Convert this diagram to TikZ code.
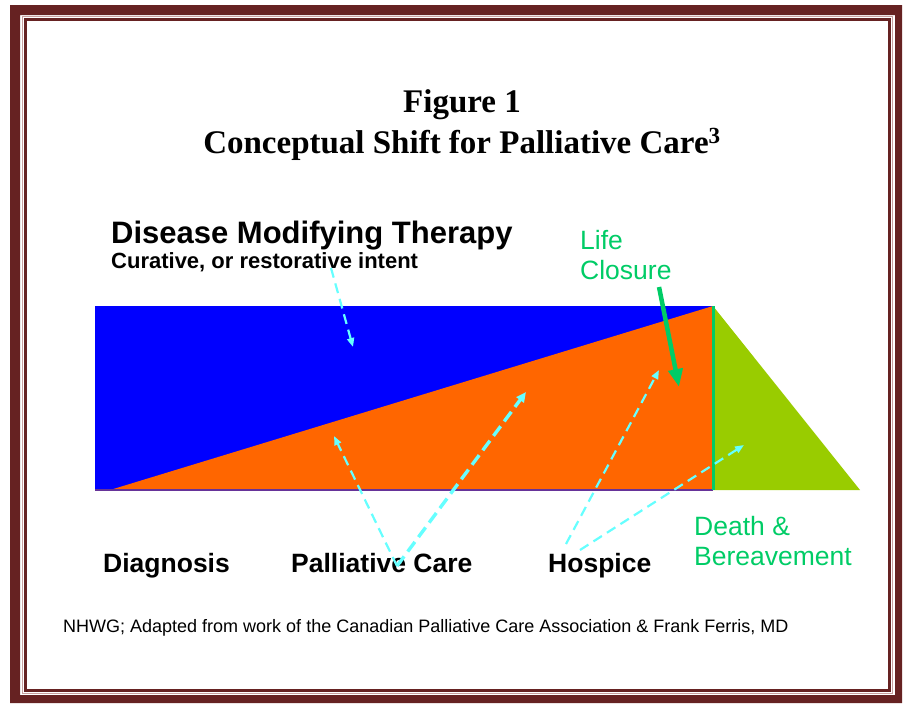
\documentclass[tikz,border=0pt]{standalone}
\usepackage{fontspec}
\setmainfont{Liberation Sans}
\newfontfamily\titlefont{Liberation Serif}
\usetikzlibrary{arrows.meta}

\definecolor{framered}{HTML}{662222}
\definecolor{framepale}{HTML}{C8A0A0}
\definecolor{therapyblue}{HTML}{0000FF}
\definecolor{careorange}{HTML}{FF6600}
\definecolor{griefolive}{HTML}{99CC00}
\definecolor{closuregreen}{HTML}{00CC66}
\definecolor{pointcyan}{HTML}{66FFFF}
\definecolor{baseviolet}{HTML}{663399}

\tikzset{
  lbl/.style={inner sep=0pt, anchor=base west},
  stagelbl/.style={lbl, font=\fontsize{26.5}{30}\selectfont\bfseries},
  greenlbl/.style={lbl, text=closuregreen, font=\fontsize{26.5}{30}\selectfont},
  titlelbl/.style={inner sep=0pt, anchor=base, font=\titlefont\fontsize{33}{38}\selectfont\bfseries},
  pointer/.style={draw=pointcyan, line width=2.2pt, dash pattern=on 10pt off 6pt,
    -{Triangle[width=7pt,length=9pt]}},
  boldpointer/.style={pointer, line width=3.4pt, dash pattern=on 12pt off 6pt,
    -{Triangle[width=9pt,length=10pt]}}
}

\begin{document}
\begin{tikzpicture}[x=1pt,y=-1pt]
\useasboundingbox (0,0) rectangle (905,704);

% double frame
\fill[framered, even odd rule] (10,5) rectangle (902,703) (20,15) rectangle (895,695);
\draw[framepale, line width=1pt] (22.5,16.5) rectangle (892.5,693.5);
\draw[framered, line width=3.5pt] (25.5,19.5) rectangle (889.5,690.5);

% title
\node[titlelbl] (fig) at (462,112) {Figure 1};
\node[titlelbl] (title) at (462,153) {Conceptual Shift for Palliative Care\textsuperscript{3}};

% headings
\node[lbl, font=\fontsize{31}{36}\selectfont\bfseries] (dmt) at (111,243) {Disease Modifying Therapy};
\node[lbl, font=\fontsize{22}{26}\selectfont\bfseries] (cur) at (111,268) {Curative, or restorative intent};

% bands
\fill[therapyblue] (95,306) rectangle (713,490);
\fill[careorange] (110,490) -- (713,306) -- (713,490) -- cycle;
\fill[griefolive] (713,306) -- (860,490) -- (713,490) -- cycle;
\draw[baseviolet, line width=1.5pt] (95,490) -- (713,490);
\draw[closuregreen, line width=3pt] (713,306) -- (713,490);

% life closure
\node[greenlbl] (life) at (580,249) {Life};
\node[greenlbl] (closure) at (580,279) {Closure};
\coordinate (lcTail) at (659,287);
\coordinate (lcTip) at (679,387);
\draw[closuregreen, line width=4.5pt, -{Triangle[width=14pt,length=18pt]}] (lcTail) -- (lcTip);

% stage labels
\node[stagelbl] (diag) at (103,572) {Diagnosis};
\node[stagelbl] (pall) at (291,572) {Palliative Care};
\node[stagelbl] (hosp) at (548,572) {Hospice};
\node[greenlbl] (death) at (694,535) {Death \&};
\node[greenlbl] (bereave) at (694,565) {Bereavement};

% source line
\node[lbl, font=\fontsize{18}{22}\selectfont] (src) at (63,632)
  {NHWG; Adapted from work of the Canadian Palliative Care Association \& Frank Ferris, MD};

% pointers
\coordinate (curFrom) at (331,268);
\coordinate (curTo) at (353,347);
\coordinate (palFrom) at (397,566);
\coordinate (palToA) at (334,436);
\coordinate (palToB) at (526,392);
\coordinate (hosFromA) at (566,544);
\coordinate (hosToA) at (659,370);
\coordinate (hosFromB) at (580,550);
\coordinate (hosToB) at (744,445);
\draw[pointer] (curFrom) -- (curTo);
\draw[pointer] (palFrom) -- (palToA);
\draw[boldpointer] (palFrom) -- (palToB);
\draw[pointer] (hosFromA) -- (hosToA);
\draw[pointer] (hosFromB) -- (hosToB);
\end{tikzpicture}
\end{document}
